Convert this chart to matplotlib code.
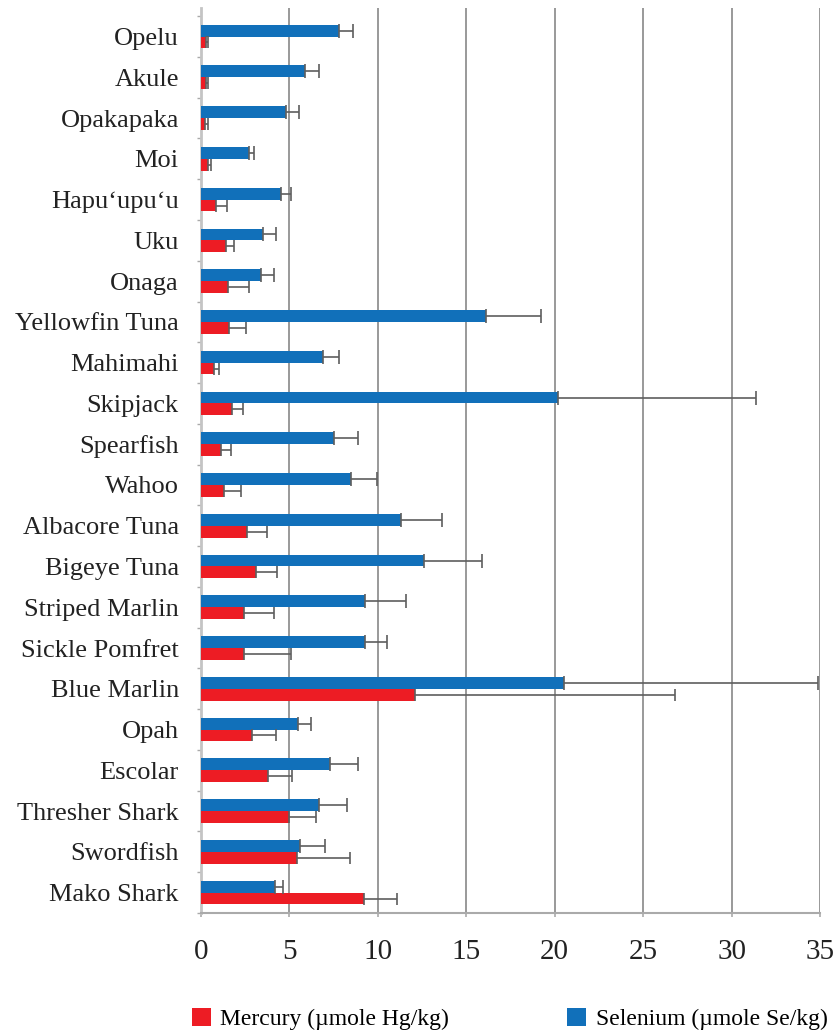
import numpy as np
import matplotlib
matplotlib.use('Agg')
import matplotlib.pyplot as plt
from matplotlib.patches import Patch

# ── data ─────────────────────────────────────────────────────────────────────
species = ["Opelu", "Akule", "Opakapaka", "Moi", "Hapu\u2018upu\u2018u", "Uku",
           "Onaga", "Yellowfin Tuna", "Mahimahi", "Skipjack", "Spearfish",
           "Wahoo", "Albacore Tuna", "Bigeye Tuna", "Striped Marlin",
           "Sickle Pomfret", "Blue Marlin", "Opah", "Escolar",
           "Thresher Shark", "Swordfish", "Mako Shark"]

selenium = [7.8, 5.9, 4.8, 2.7, 4.5, 3.5, 3.4, 16.1, 6.9, 20.2, 7.5, 8.5,
            11.3, 12.6, 9.3, 9.3, 20.5, 5.5, 7.3, 6.7, 5.6, 4.2]
selenium_err = [0.8, 0.8, 0.75, 0.3, 0.6, 0.75, 0.7, 3.1, 0.9, 11.2, 1.4,
                1.45, 2.35, 3.3, 2.3, 1.2, 14.4, 0.7, 1.6, 1.55, 1.4, 0.45]

mercury = [0.27, 0.27, 0.21, 0.4, 0.85, 1.4, 1.53, 1.58, 0.73, 1.75, 1.13,
           1.3, 2.6, 3.1, 2.43, 2.43, 12.1, 2.88, 3.8, 4.97, 5.43, 9.2]
mercury_err = [0.13, 0.13, 0.18, 0.17, 0.62, 0.47, 1.2, 0.95, 0.28, 0.6,
               0.57, 0.96, 1.15, 1.22, 1.7, 2.66, 14.7, 1.38, 1.35, 1.55,
               2.97, 1.87]

xticks = [0, 5, 10, 15, 20, 25, 30, 35]

BLUE = "#1170ba"
RED = "#ed1c24"
ERR = "#5e5e5e"
FONT = "Liberation Serif"

plt.rcParams['font.family'] = FONT

fig = plt.figure(figsize=(8.39, 10.34), dpi=100)
W, H = 839, 1034
ax = fig.add_axes([201 / W, 1 - 913 / H, (820 - 201) / W, (913 - 8) / H])

y = np.arange(len(species))
h = 0.29
zeros = np.zeros(len(species))
# only the upper half of each error bar is shown, as in the original
ax.barh(y - h / 2, selenium, height=h, color=BLUE, zorder=3,
        xerr=[zeros, selenium_err],
        error_kw=dict(ecolor=ERR, elinewidth=1.2, capsize=5, capthick=1.2))
ax.barh(y + h / 2, mercury, height=h, color=RED, zorder=3,
        xerr=[zeros, mercury_err],
        error_kw=dict(ecolor=ERR, elinewidth=1.2, capsize=4.5, capthick=1.2))

ax.set_xlim(0, 35)
ax.set_ylim(len(species) - 0.5, -0.7)

ax.set_xticks(xticks)
ax.set_xticklabels([str(t) for t in xticks], fontsize=21, color="#222222")
ax.set_yticks(y)
ax.set_yticklabels(species, fontsize=19, color="#222222")
ax.set_yticks(np.arange(len(species) + 1) - 0.5, minor=True)

ax.tick_params(axis='y', which='major', length=0, pad=16)
ax.tick_params(axis='y', which='minor', length=3, width=1, color="#aaaaaa")
ax.tick_params(axis='x', which='major', length=3, width=1.2, color="#aaaaaa",
               pad=16)

ax.grid(axis='x', color="#999999", linewidth=1.4, zorder=1)
ax.set_axisbelow(True)
for s in ["top", "right"]:
    ax.spines[s].set_visible(False)
ax.spines["left"].set_color("#c4c4c4")
ax.spines["left"].set_linewidth(2)
ax.spines["bottom"].set_color("#aaaaaa")
ax.spines["bottom"].set_linewidth(1.5)

handles = [Patch(facecolor=RED, label="Mercury (\u00b5mole Hg/kg)"),
           Patch(facecolor=BLUE, label="Selenium (\u00b5mole Se/kg)")]
fig.legend(handles=handles, loc="center left", ncol=2, frameon=False,
           bbox_to_anchor=(192 / W, 1 - 1019 / H), fontsize=17,
           handlelength=0.8, handleheight=0.8, handletextpad=0.4,
           columnspacing=5.0, borderaxespad=0, borderpad=0)

fig.savefig("out.png", dpi=100)
